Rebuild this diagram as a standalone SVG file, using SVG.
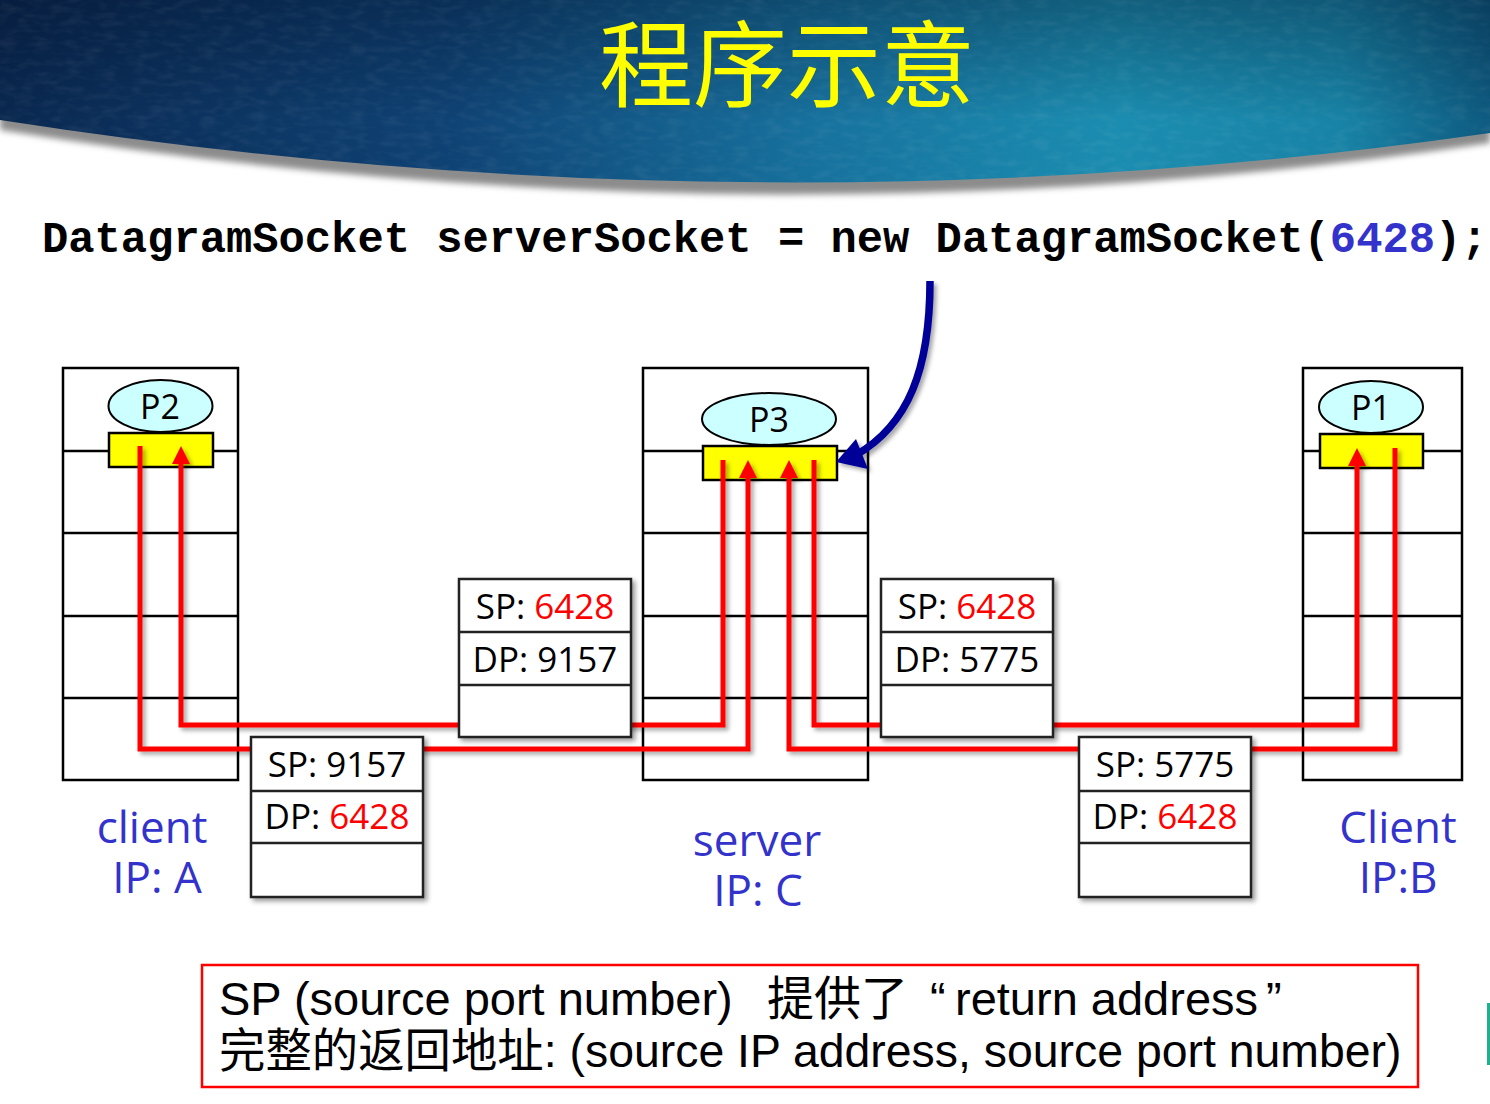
<svg xmlns="http://www.w3.org/2000/svg" width="1490" height="1104" viewBox="0 0 1490 1104">
<defs>
<linearGradient id="bannerH" x1="0" y1="0" x2="1" y2="0">
<stop offset="0" stop-color="#0a2850"/>
<stop offset="0.3" stop-color="#0f4274"/>
<stop offset="0.55" stop-color="#17729e"/>
<stop offset="0.75" stop-color="#1b8db0"/>
<stop offset="0.9" stop-color="#1883a6"/>
<stop offset="1" stop-color="#0e5a80"/>
</linearGradient>
<linearGradient id="bannerV" x1="0" y1="0" x2="0" y2="1">
<stop offset="0" stop-color="#000a20" stop-opacity="0.35"/>
<stop offset="0.6" stop-color="#000a20" stop-opacity="0"/>
</linearGradient>
<clipPath id="bannerClip"><path d="M0,0 H1490 V133 Q760,238 0,120 Z"/></clipPath>
<filter id="noise" x="0" y="0" width="100%" height="100%">
<feTurbulence type="fractalNoise" baseFrequency="0.06 0.15" numOctaves="2" seed="3"/>
<feColorMatrix type="matrix" values="0 0 0 0 1  0 0 0 0 1  0 0 0 0 1  0.5 0 0 0 -0.2"/>
</filter>
<filter id="blur4"><feGaussianBlur stdDeviation="3"/></filter>
<filter id="shadow" x="-10%" y="-10%" width="130%" height="130%">
<feDropShadow dx="3" dy="3" stdDeviation="2.5" flood-color="#000" flood-opacity="0.4"/>
</filter>
<filter id="lineShadow" x="-5%" y="-5%" width="110%" height="110%">
<feDropShadow dx="3" dy="3" stdDeviation="2" flood-color="#000" flood-opacity="0.35"/>
</filter>
<marker id="arrowRed" viewBox="0 0 18 18" markerWidth="18" markerHeight="18" refX="8" refY="9" orient="auto" markerUnits="userSpaceOnUse">
<path d="M0,0 L18,9 L0,18 Z" fill="#ff0000"/>
</marker>
<style>
.host{fill:#ffffff;stroke:#000;stroke-width:2.5}
.hline{stroke:#000;stroke-width:2.5}
.proc{fill:#ccffff;stroke:#000;stroke-width:2}
.sock{fill:#ffff00;stroke:#000;stroke-width:2.5}
.ptxt{font-family:"Open Sans","DejaVu Sans",sans-serif;font-size:34px;fill:#000;text-anchor:middle}
.pkt{fill:#ffffff;stroke:#222;stroke-width:2.5}
.pline{stroke:#222;stroke-width:2.5}
.ktxt{font-family:"Open Sans","DejaVu Sans",sans-serif;font-size:35px;fill:#000;text-anchor:middle}
.red{fill:#ff0000}
.conn{fill:none;stroke:#ff0000;stroke-width:5;stroke-linejoin:miter}
.lbl{font-family:"Open Sans","DejaVu Sans",sans-serif;font-size:44px;fill:#3333cc;text-anchor:middle}
.code{font-family:"Liberation Mono","DejaVu Sans Mono",monospace;font-weight:bold;font-size:43.8px;fill:#000}
.note{font-family:"Liberation Sans","Noto Sans CJK SC",sans-serif;font-size:47px;fill:#000}
</style>
</defs>
<rect x="0" y="0" width="1490" height="1104" fill="#ffffff"/>

<g id="banner">
<path d="M0,0 H1490 V143 Q760,252 0,130 Z" fill="#8c8c8c" filter="url(#blur4)"/>
<path d="M0,0 H1490 V133 Q760,238 0,120 Z" fill="url(#bannerH)"/>
<g clip-path="url(#bannerClip)">
<rect x="0" y="0" width="1490" height="200" fill="url(#bannerV)"/>
<rect x="0" y="0" width="1490" height="200" filter="url(#noise)" opacity="0.25"/>
</g>
<text x="787" y="100" font-family="Noto Sans CJK SC, sans-serif" font-size="94" fill="#ffff00" text-anchor="middle">程序示意</text>
</g>

<text id="code" class="code" x="42" y="252">DatagramSocket serverSocket = new DatagramSocket(<tspan fill="#3333cc">6428</tspan>);</text>

<g id="hostA">
<rect class="host" x="63" y="368" width="175" height="412"/>
<line class="hline" x1="63" y1="451" x2="238" y2="451"/>
<line class="hline" x1="63" y1="533" x2="238" y2="533"/>
<line class="hline" x1="63" y1="616" x2="238" y2="616"/>
<line class="hline" x1="63" y1="698" x2="238" y2="698"/>
<ellipse class="proc" cx="160.5" cy="406" rx="52" ry="26"/>
<text class="ptxt" x="160" y="419">P2</text>
<rect class="sock" x="109" y="433" width="104" height="34"/>
</g>

<g id="hostC">
<rect class="host" x="643" y="368" width="225" height="412"/>
<line class="hline" x1="643" y1="451" x2="868" y2="451"/>
<line class="hline" x1="643" y1="533" x2="868" y2="533"/>
<line class="hline" x1="643" y1="616" x2="868" y2="616"/>
<line class="hline" x1="643" y1="698" x2="868" y2="698"/>
<ellipse class="proc" cx="769" cy="419" rx="67" ry="26"/>
<text class="ptxt" x="769" y="432">P3</text>
<rect class="sock" x="703" y="446" width="134" height="34"/>
</g>

<g id="hostB">
<rect class="host" x="1303" y="368" width="159" height="412"/>
<line class="hline" x1="1303" y1="451" x2="1462" y2="451"/>
<line class="hline" x1="1303" y1="533" x2="1462" y2="533"/>
<line class="hline" x1="1303" y1="616" x2="1462" y2="616"/>
<line class="hline" x1="1303" y1="698" x2="1462" y2="698"/>
<ellipse class="proc" cx="1371" cy="407" rx="52" ry="26"/>
<text class="ptxt" x="1371" y="420">P1</text>
<rect class="sock" x="1320" y="434" width="103" height="34"/>
</g>

<g id="connectors" filter="url(#lineShadow)">
<path class="conn" d="M140,446 V749 H748 V470" marker-end="url(#arrowRed)"/>
<path class="conn" d="M723,460 V725 H181 V456" marker-end="url(#arrowRed)"/>
<path class="conn" d="M1395,448 V749 H789 V470" marker-end="url(#arrowRed)"/>
<path class="conn" d="M814,460 V725 H1357 V458" marker-end="url(#arrowRed)"/>
<g id="socketArrow">
<path d="M930,281 C930,370 908,425 856,455" fill="none" stroke="#000099" stroke-width="7.5"/>
<polygon points="836,462 856,439 868,469" fill="#000099"/>
</g>
</g>

<g id="pktA">
<rect class="pkt" x="251" y="737" width="172" height="160" filter="url(#shadow)"/>
<line class="pline" x1="251" y1="791" x2="423" y2="791"/>
<line class="pline" x1="251" y1="843" x2="423" y2="843"/>
<text class="ktxt" x="337" y="777">SP: 9157</text>
<text class="ktxt" x="337" y="829">DP: <tspan class="red">6428</tspan></text>
</g>

<g id="pktB">
<rect class="pkt" x="459" y="579" width="172" height="158" filter="url(#shadow)"/>
<line class="pline" x1="459" y1="632" x2="631" y2="632"/>
<line class="pline" x1="459" y1="685" x2="631" y2="685"/>
<text class="ktxt" x="545" y="619">SP: <tspan class="red">6428</tspan></text>
<text class="ktxt" x="545" y="672">DP: 9157</text>
</g>

<g id="pktC">
<rect class="pkt" x="881" y="579" width="172" height="158" filter="url(#shadow)"/>
<line class="pline" x1="881" y1="632" x2="1053" y2="632"/>
<line class="pline" x1="881" y1="685" x2="1053" y2="685"/>
<text class="ktxt" x="967" y="619">SP: <tspan class="red">6428</tspan></text>
<text class="ktxt" x="967" y="672">DP: 5775</text>
</g>

<g id="pktD">
<rect class="pkt" x="1079" y="737" width="172" height="160" filter="url(#shadow)"/>
<line class="pline" x1="1079" y1="791" x2="1251" y2="791"/>
<line class="pline" x1="1079" y1="843" x2="1251" y2="843"/>
<text class="ktxt" x="1165" y="777">SP: 5775</text>
<text class="ktxt" x="1165" y="829">DP: <tspan class="red">6428</tspan></text>
</g>

<g id="labelA">
<text class="lbl" x="152" y="843">client</text>
<text class="lbl" x="157" y="893">IP: A</text>
</g>
<g id="labelC">
<text class="lbl" x="757" y="856">server</text>
<text class="lbl" x="758" y="906">IP: C</text>
</g>
<g id="labelB">
<text class="lbl" x="1398" y="843">Client</text>
<text class="lbl" x="1398" y="893">IP:B</text>
</g>

<g id="note">
<rect x="202" y="965" width="1216" height="122" fill="none" stroke="#ff0000" stroke-width="2.5"/>
<text class="note" y="1015"><tspan x="219">SP (source port number)</tspan><tspan x="767">提供了</tspan><tspan x="930">“</tspan><tspan x="955">return address</tspan><tspan x="1266">”</tspan></text>
<text class="note" x="219" y="1067" style="font-size:46.4px">完整的返回地址: (source IP address, source port number)</text>
</g>
<rect x="1487" y="1003" width="3" height="62" fill="#20b090"/>
</svg>
